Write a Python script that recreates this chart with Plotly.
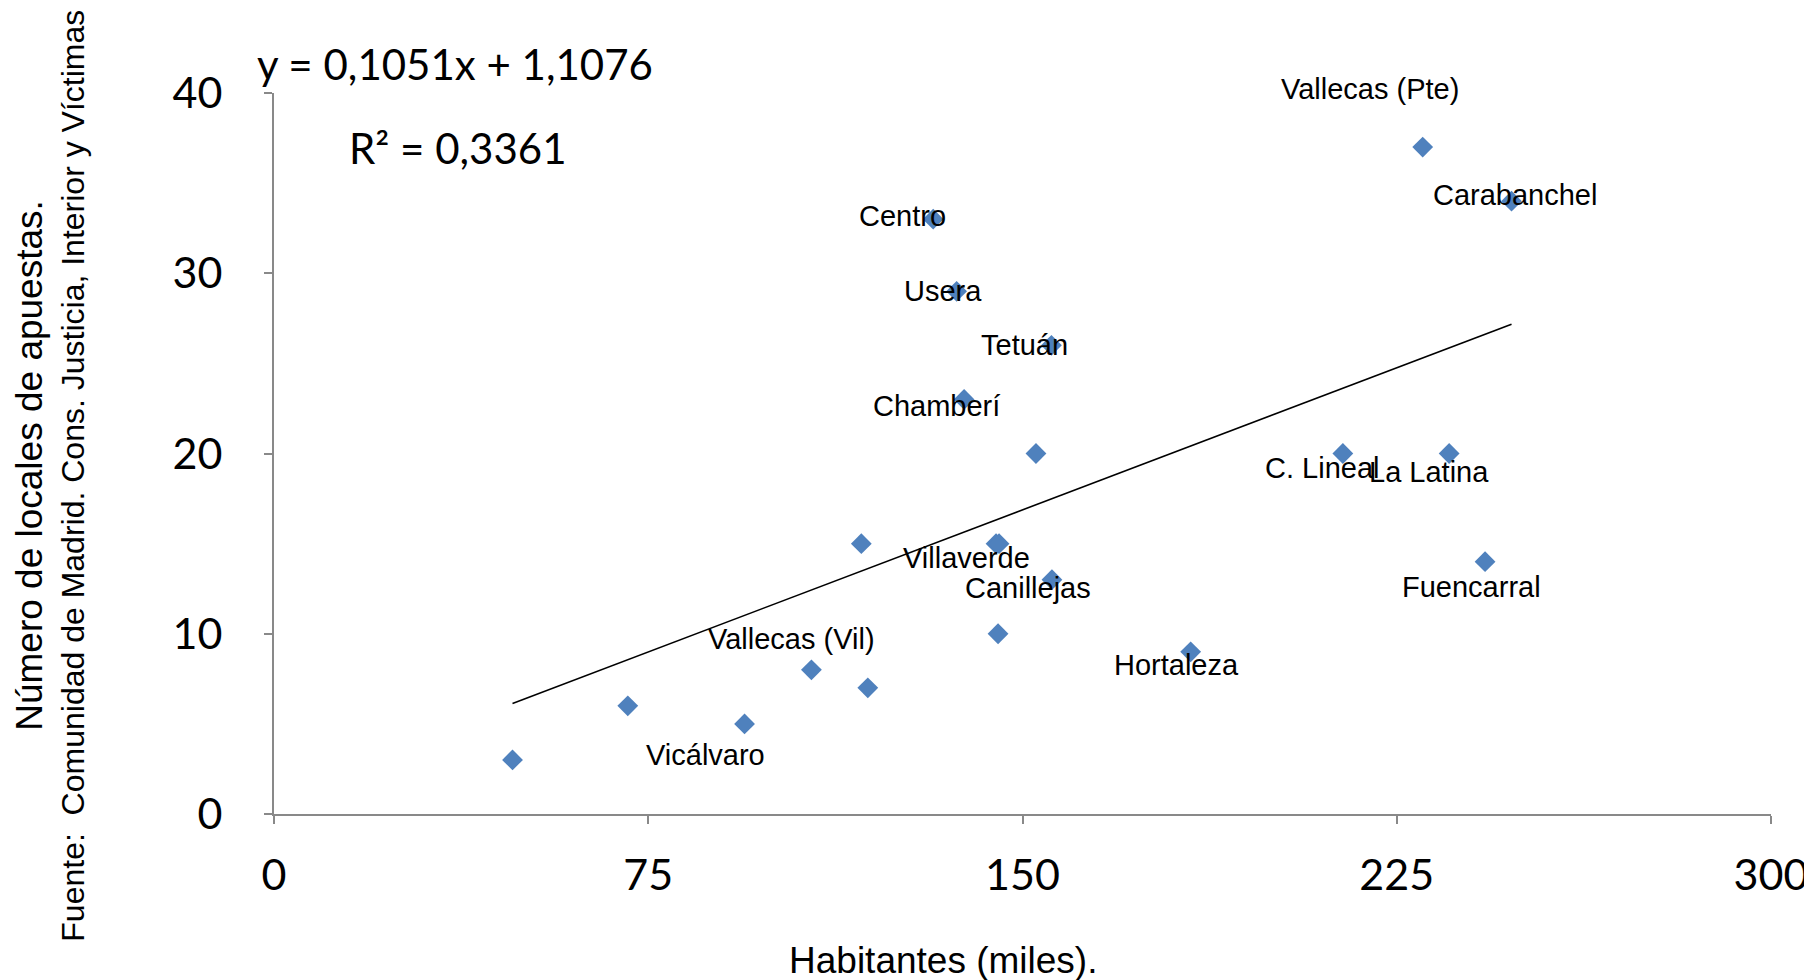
import plotly.graph_objects as go

# ---- data ----
habitantes = [47.8, 70.9, 94.3, 107.7, 119.0, 117.7, 132.1, 136.8, 138.3, 144.7, 145.3,
              152.7, 155.8, 155.9, 145.1, 183.7, 214.2, 235.5, 230.2, 248.0, 242.7]
locales = [3, 6, 5, 8, 7, 15, 33, 29, 23, 15, 15,
           20, 26, 13, 10, 9, 20, 20, 37, 34, 14]
distritos = ["", "", "Vicálvaro", "Vallecas (Vil)", "", "", "Centro", "Usera", "Chamberí",
             "Villaverde", "", "", "Tetuán", "Canillejas", "", "Hortaleza", "C. Lineal",
             "La Latina", "Vallecas (Pte)", "Carabanchel", "Fuencarral"]
pendiente = 0.1051
ordenada = 1.1076
r2 = 0.3361
x_ticks = [0, 75, 150, 225, 300]
y_ticks = [0, 10, 20, 30, 40]

# ---- styling: label offsets in pixels (x right, y up) ----
label_offsets = {
    "Vicálvaro": (-39, -31), "Vallecas (Vil)": (-20, 31), "Centro": (-31, 3),
    "Usera": (-14, 0), "Chamberí": (-28, -7), "Villaverde": (-30, -14),
    "Tetuán": (-27, 0), "Canillejas": (-24, -8), "Hortaleza": (-14, -13),
    "C. Lineal": (-21, -14), "La Latina": (-20, -18), "Vallecas (Pte)": (-53, 58),
    "Carabanchel": (3, 6), "Fuencarral": (-14, -25),
}

BODY = 8  # default page margin around the plot div
W, H = 1812, 980
# plot area in page pixels: left 274, right 1776, top 93, bottom 814
L = 274 - BODY
T = 93 - BODY
R = BODY + W - 1776
B = BODY + H - 814
PW, PH = W - L - R, H - T - B

def px(xp):
    return (xp - BODY - L) / PW

def py(yp):
    return (H - B + BODY - yp) / PH

GRAY = "#898989"
LABEL_FONT = dict(family="Liberation Sans, Arial, sans-serif", size=29, color="black")

fig = go.Figure()

fig.add_trace(go.Scatter(
    x=habitantes, y=locales, mode="markers",
    marker=dict(symbol="diamond", size=16, color="#4F81BD", line=dict(width=0)),
    showlegend=False, hoverinfo="x+y", cliponaxis=False,
))

xmin, xmax = min(habitantes), max(habitantes)
fig.add_trace(go.Scatter(
    x=[xmin, xmax], y=[pendiente * xmin + ordenada, pendiente * xmax + ordenada],
    mode="lines", line=dict(color="black", width=1.6), showlegend=False, hoverinfo="skip",
))

annotations = []
for xv, yv, name in zip(habitantes, locales, distritos):
    if not name:
        continue
    dx, dy = label_offsets.get(name, (0, 0))
    annotations.append(dict(
        x=xv, y=yv, xref="x", yref="y", text=name, showarrow=False,
        xshift=dx, yshift=dy, font=LABEL_FONT, xanchor="center", yanchor="middle",
    ))

eq_text = "y = " + f"{pendiente:.4f}".replace(".", ",") + "x + " + f"{ordenada:.4f}".replace(".", ",")
r2_text = "R² = " + f"{r2:.4f}".replace(".", ",")
EQ_FONT = dict(family="Lato, Open Sans, sans-serif", size=42, color="black")
annotations.append(dict(x=px(255), y=py(64), xref="paper", yref="paper", text=eq_text,
                        showarrow=False, xanchor="left", yanchor="middle", font=EQ_FONT))
annotations.append(dict(x=px(347), y=py(148), xref="paper", yref="paper", text=r2_text,
                        showarrow=False, xanchor="left", yanchor="middle", font=EQ_FONT))

# axis titles
annotations.append(dict(x=px(945), y=py(961), xref="paper", yref="paper",
                        text="Habitantes (miles).", showarrow=False,
                        xanchor="center", yanchor="middle",
                        font=dict(family="Liberation Sans, Arial, sans-serif", size=37, color="black")))
annotations.append(dict(x=px(28), y=py(465), xref="paper", yref="paper",
                        text="Número de locales de apuestas.", showarrow=False, textangle=-90,
                        xanchor="center", yanchor="middle",
                        font=dict(family="Liberation Sans, Arial, sans-serif", size=37, color="black")))
annotations.append(dict(x=px(72), y=py(476), xref="paper", yref="paper",
                        text="Fuente:  Comunidad de Madrid. Cons. Justicia, Interior y Víctimas",
                        showarrow=False, textangle=-90, xanchor="center", yanchor="middle",
                        font=dict(family="Liberation Sans, Arial, sans-serif", size=32, color="black")))

TICK_FONT = dict(family="Lato, Open Sans, sans-serif", size=43, color="black")
fig.update_layout(
    width=W, height=H,
    margin=dict(l=L, r=R, t=T, b=B, pad=0),
    paper_bgcolor="white", plot_bgcolor="white",
    annotations=annotations,
    xaxis=dict(range=[0, 300], tickmode="array", tickvals=x_ticks,
               ticktext=[str(v) for v in x_ticks], showgrid=False, zeroline=False,
               showline=True, linecolor=GRAY, linewidth=2, ticks="outside",
               ticklen=8, tickwidth=2, tickcolor=GRAY, tickfont=TICK_FONT,
               ticklabelstandoff=14),
    yaxis=dict(range=[0, 40], tickmode="array", tickvals=y_ticks,
               ticktext=[str(v) for v in y_ticks], showgrid=False, zeroline=False,
               showline=True, linecolor=GRAY, linewidth=2, ticks="outside",
               ticklen=8, tickwidth=2, tickcolor=GRAY, tickfont=TICK_FONT,
               ticklabelstandoff=33),
)

fig.write_html("out.html")
